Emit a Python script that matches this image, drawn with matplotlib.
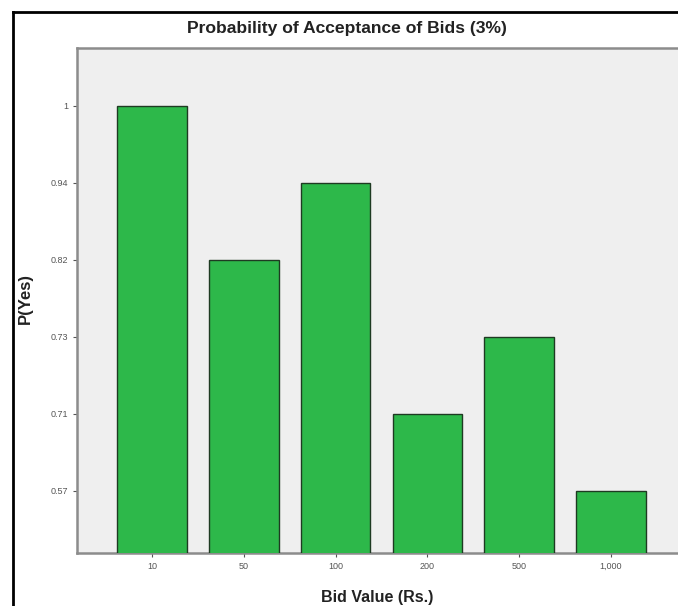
import matplotlib
matplotlib.use('Agg')
import matplotlib.pyplot as plt
from matplotlib.lines import Line2D

plt.rcParams['font.family'] = ['Liberation Sans', 'DejaVu Sans']

bids = ['10', '50', '100', '200', '500', '1,000']
p_yes = [1, 0.82, 0.94, 0.71, 0.73, 0.57]

# the y axis is ordinal in the original: each distinct value gets its own evenly spaced slot
levels = sorted(set(p_yes))
rank = [levels.index(v) + 1 for v in p_yes]

fig = plt.figure(figsize=(6.78, 6.06), dpi=100)
ax = fig.add_axes([77/678, 1-553/606, 1-77/678, (553-48)/606])
ax.set_facecolor('#efefef')

x = list(range(len(bids)))
ax.bar(x, rank, width=0.76, color='#2db84a', edgecolor='#1e3a22', lw=1.0, zorder=3)

ax.set_xlim(-0.817, 5.73)
ax.set_ylim(0.195, 6.75)
ax.set_xticks(x)
ax.set_xticklabels(bids)
ax.set_yticks(range(1, len(levels) + 1))
ax.set_yticklabels([f'{v:g}' for v in levels])
ax.tick_params(axis='both', labelsize=6.5, colors='#555555', length=3, width=0.8, direction='out')

for s in ['left', 'bottom', 'top']:
    ax.spines[s].set_color('#8c8c8c')
    ax.spines[s].set_linewidth(1.8)
ax.spines['right'].set_visible(False)

ax.set_xlabel('Bid Value (Rs.)', fontsize=11.5, fontweight='bold', color='#222222', labelpad=14)
fig.text(25/678, 1-298/606, 'P(Yes)', rotation=90, ha='center', va='center',
         fontsize=12, fontweight='bold', color='#222222')
fig.text(347/678, 1-28/606, 'Probability of Acceptance of Bids (3%)', ha='center', va='center',
         fontsize=12.6, fontweight='bold', color='#222222')

# outer black frame (left and top edges)
fig.add_artist(Line2D([12.5/678, 12.5/678], [0, 1-12/606], transform=fig.transFigure, color='black', lw=2))
fig.add_artist(Line2D([12.5/678, 1], [1-12/606, 1-12/606], transform=fig.transFigure, color='black', lw=2))

fig.savefig('out.png', dpi=100)
